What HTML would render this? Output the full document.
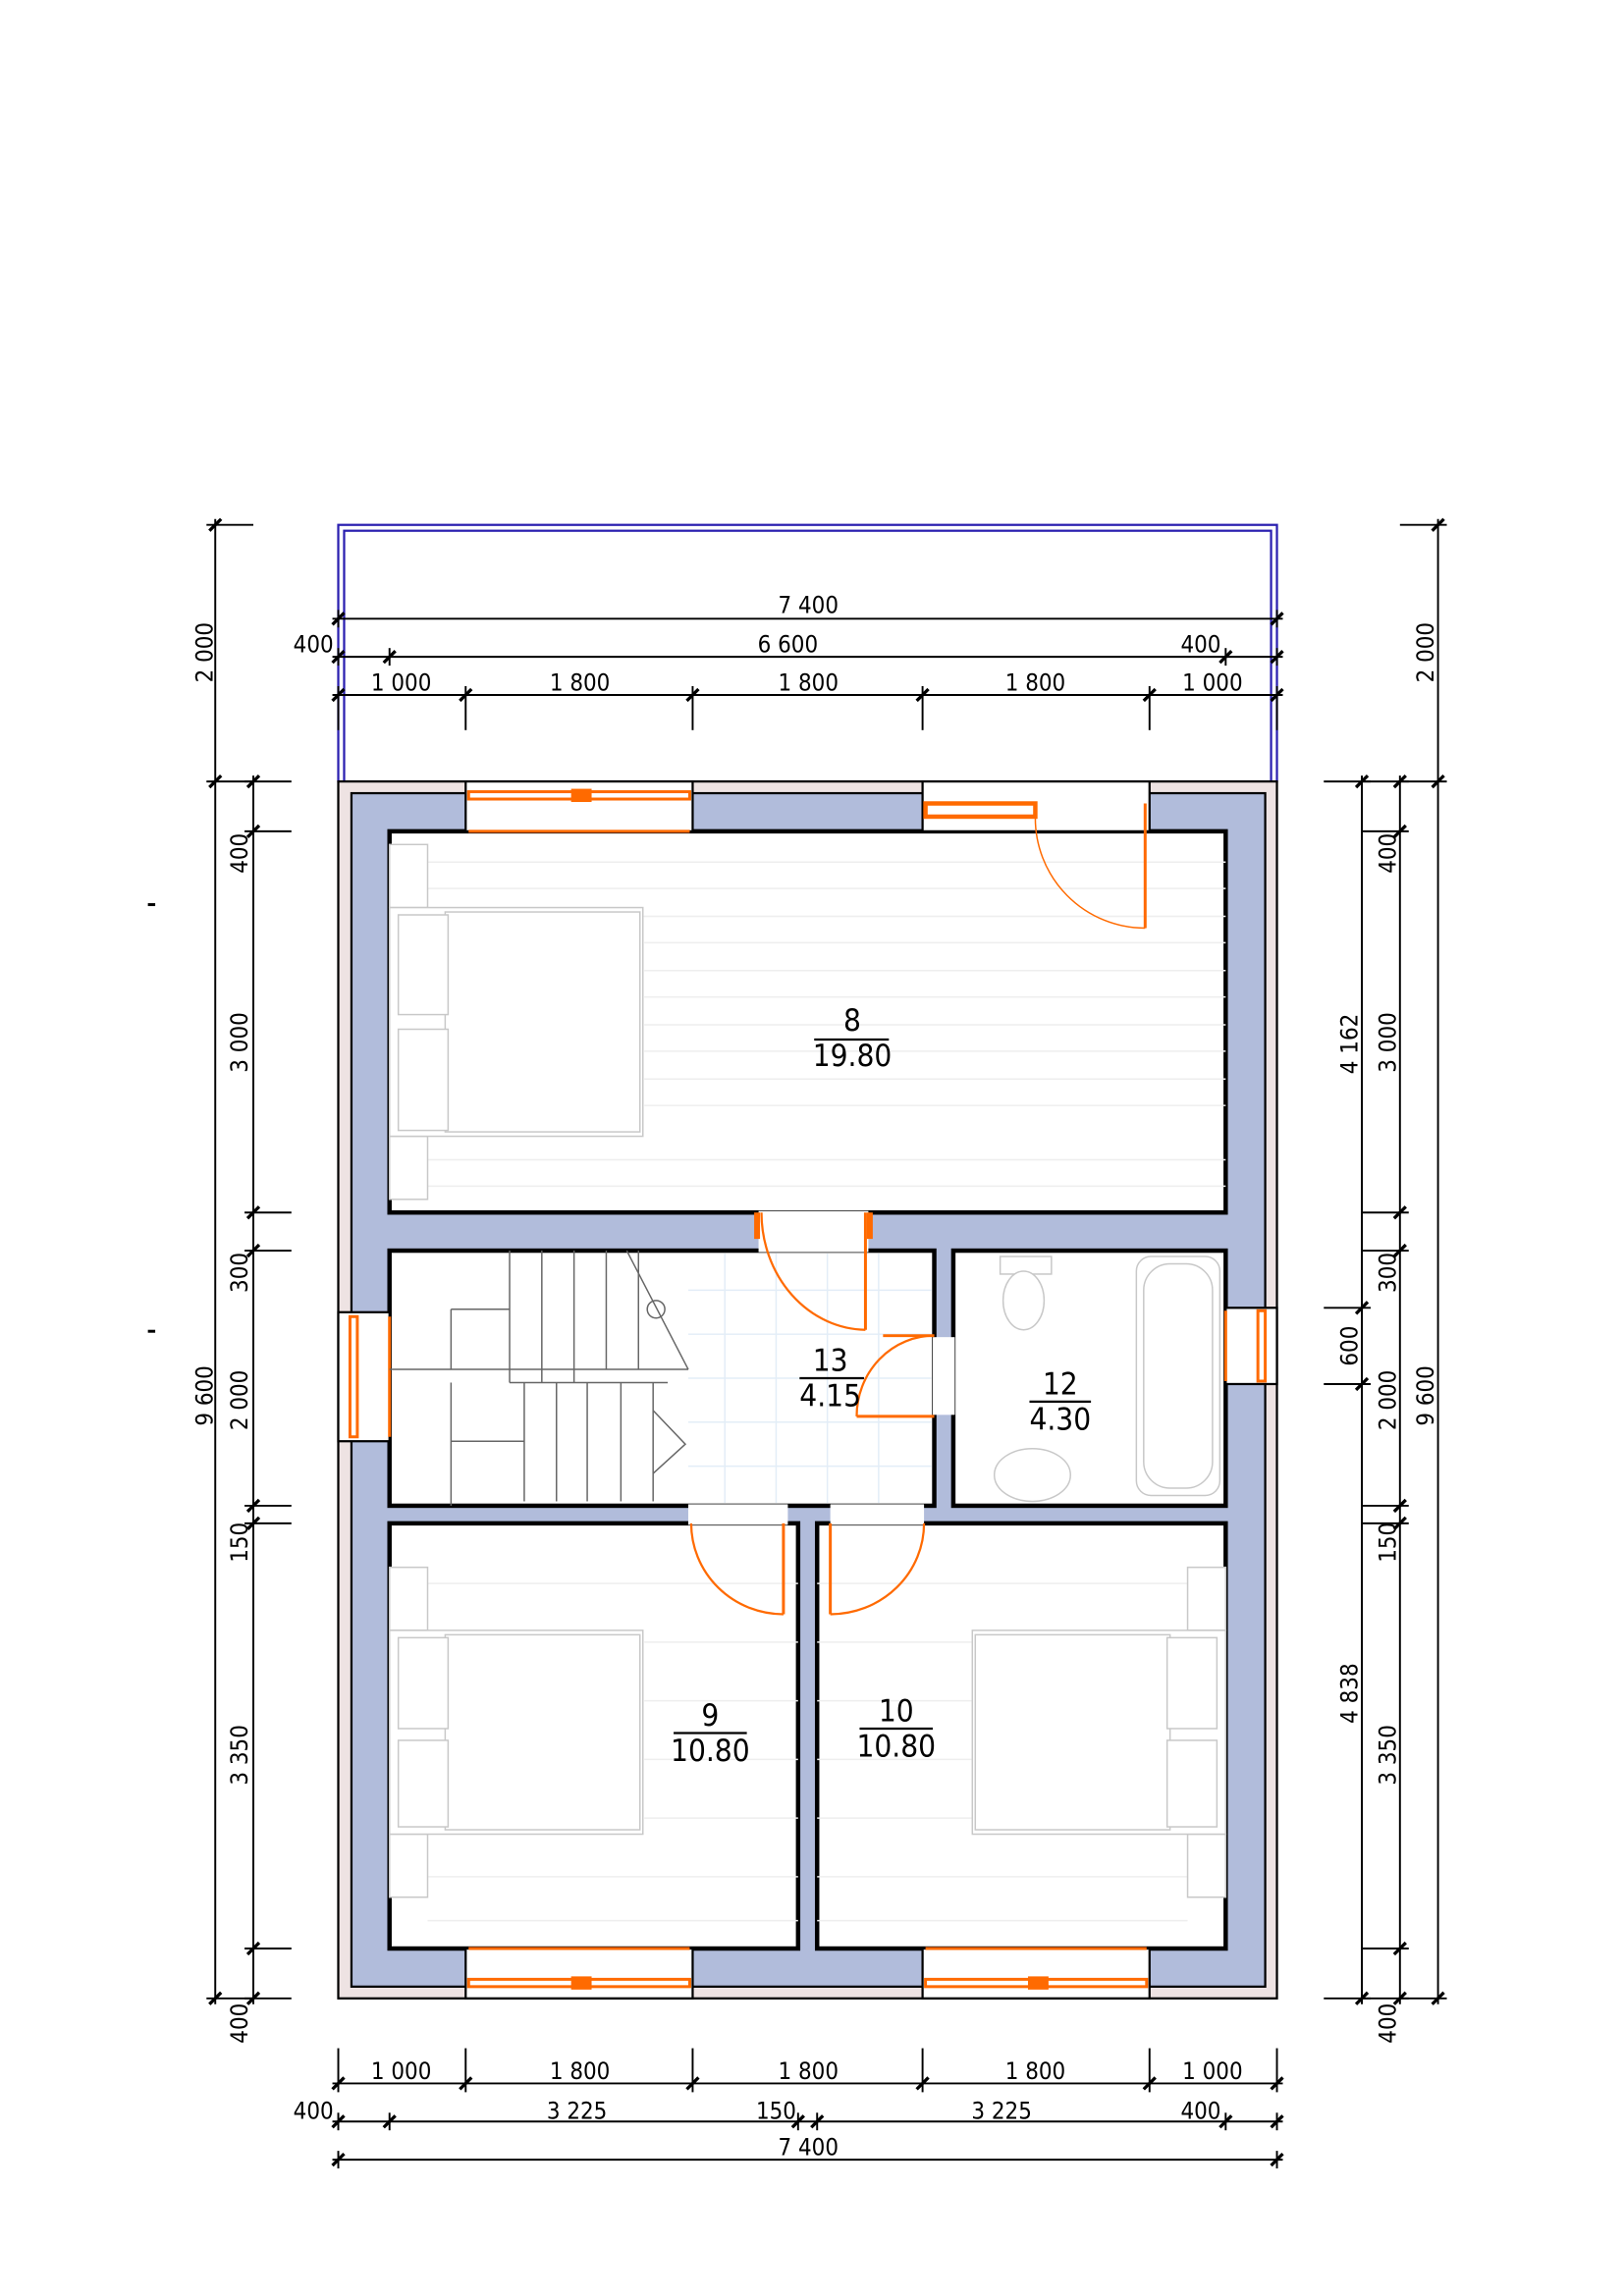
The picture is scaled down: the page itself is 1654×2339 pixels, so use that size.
<!DOCTYPE html>
<html><head><meta charset="utf-8"><style>
html,body{margin:0;padding:0;background:#fff;width:1654px;height:2339px;overflow:hidden}
svg{display:block}
text{font-family:"Liberation Sans Narrow","DejaVu Sans Condensed","Liberation Sans",sans-serif;fill:#000}
.d{font-size:16px;text-anchor:middle}
.r{font-size:21px;text-anchor:middle}
</style></head><body>
<svg id="s" width="1654" height="2339" viewBox="0 0 1109 1566" preserveAspectRatio="none" xmlns="http://www.w3.org/2000/svg">
<rect x="0" y="0" width="1109" height="1566" fill="#fff"/>
<g fill="none" stroke="#2a1fb0" stroke-width="1.5">
<rect x="231" y="358" width="641" height="175"/>
<rect x="235" y="362" width="633" height="171"/>
<line x1="234" y1="533" x2="234" y2="549" stroke-width="3"/>
<line x1="868" y1="533" x2="868" y2="549" stroke-width="3"/>
</g>
<rect x="231" y="533" width="641" height="830" fill="#eee3e3" stroke="#000" stroke-width="1.5"/>
<rect x="240" y="541" width="624" height="814" fill="#b1bcdb" stroke="#000" stroke-width="1.5"/>
<g fill="#fff" stroke="#000" stroke-width="3">
<rect x="266" y="567" width="571" height="260"/>
<rect x="266" y="853" width="372" height="174"/>
<rect x="651" y="853" width="186" height="174"/>
<rect x="266" y="1039" width="279" height="290"/>
<rect x="558" y="1039" width="279" height="290"/>
</g>
<g fill="#fff">
<rect x="470" y="1026" width="68" height="14"/>
<rect x="567" y="1026" width="64" height="14"/>
<rect x="518" y="826" width="75" height="28"/>
<rect x="637" y="912" width="15" height="53"/>
</g>
<g stroke="#eee" stroke-width="1">
<line x1="292" y1="588" x2="837" y2="588"/><line x1="292" y1="606" x2="837" y2="606"/><line x1="292" y1="625" x2="837" y2="625"/><line x1="440" y1="643" x2="837" y2="643"/><line x1="440" y1="662" x2="837" y2="662"/><line x1="440" y1="680" x2="837" y2="680"/><line x1="440" y1="699" x2="837" y2="699"/><line x1="440" y1="717" x2="837" y2="717"/><line x1="440" y1="736" x2="837" y2="736"/><line x1="440" y1="754" x2="837" y2="754"/><line x1="292" y1="791" x2="837" y2="791"/><line x1="292" y1="809" x2="837" y2="809"/>
<line x1="292" y1="1080" x2="545" y2="1080"/><line x1="440" y1="1120" x2="545" y2="1120"/><line x1="440" y1="1160" x2="545" y2="1160"/><line x1="440" y1="1200" x2="545" y2="1200"/><line x1="440" y1="1240" x2="545" y2="1240"/><line x1="292" y1="1280" x2="545" y2="1280"/><line x1="292" y1="1310" x2="545" y2="1310"/>
<line x1="558" y1="1080" x2="811" y2="1080"/><line x1="558" y1="1120" x2="664" y2="1120"/><line x1="558" y1="1160" x2="664" y2="1160"/><line x1="558" y1="1200" x2="664" y2="1200"/><line x1="558" y1="1240" x2="664" y2="1240"/><line x1="558" y1="1280" x2="811" y2="1280"/><line x1="558" y1="1310" x2="811" y2="1310"/>
</g>
<g stroke="#e3edf7" stroke-width="1">
<line x1="470" y1="880" x2="636" y2="880"/><line x1="470" y1="910" x2="636" y2="910"/><line x1="470" y1="940" x2="636" y2="940"/><line x1="470" y1="970" x2="636" y2="970"/><line x1="470" y1="1000" x2="636" y2="1000"/>
<line x1="495" y1="855" x2="495" y2="1025"/><line x1="530" y1="855" x2="530" y2="1025"/><line x1="565" y1="855" x2="565" y2="1025"/><line x1="600" y1="855" x2="600" y2="1025"/>
</g>
<g fill="#fff" stroke="#000" stroke-width="1.5">
<rect x="318" y="533" width="155" height="34"/>
<rect x="630" y="533" width="155" height="34"/>
<rect x="318" y="1329" width="155" height="34"/>
<rect x="630" y="1329" width="155" height="34"/>
<rect x="231" y="895" width="35" height="88"/>
<rect x="837" y="892" width="35" height="52"/>
</g>
<g fill="none" stroke="#ff6a00" stroke-width="2">
<rect x="320" y="540" width="151" height="5"/><rect x="391" y="539" width="12" height="7" fill="#ff6a00"/>
<line x1="320" y1="567" x2="471" y2="567"/>
<rect x="320" y="1350" width="151" height="5"/><rect x="391" y="1349" width="12" height="7" fill="#ff6a00"/>
<line x1="320" y1="1329" x2="471" y2="1329"/>
<rect x="632" y="1350" width="151" height="5"/><rect x="703" y="1349" width="12" height="7" fill="#ff6a00"/>
<line x1="632" y1="1329" x2="783" y2="1329"/>
<rect x="239" y="898" width="5" height="82"/><line x1="266" y1="898" x2="266" y2="980"/>
<rect x="859" y="894" width="5" height="48"/><line x1="837" y1="894" x2="837" y2="942"/>
<rect x="632" y="548" width="75" height="9" stroke-width="3"/>
<line x1="782" y1="548" x2="782" y2="633"/>
<path d="M707 557 A75 75 0 0 0 782 633" stroke-width="1"/>
<line x1="591" y1="827" x2="591" y2="907"/>
<path d="M520 827 A72 80 0 0 0 591 907" stroke-width="1.5"/>
<line x1="517" y1="827" x2="517" y2="845" stroke-width="4"/><line x1="594" y1="827" x2="594" y2="845" stroke-width="4"/>
<line x1="585" y1="966" x2="638" y2="966"/><line x1="603" y1="911" x2="638" y2="911"/>
<path d="M585 966 A53 55 0 0 1 638 911" stroke-width="1.5"/>
<line x1="535" y1="1039" x2="535" y2="1101"/>
<path d="M472 1039 A63 62 0 0 0 535 1101" stroke-width="1.5"/>
<line x1="567" y1="1039" x2="567" y2="1101"/>
<path d="M631 1039 A64 62 0 0 1 567 1101" stroke-width="1.5"/>
</g>
<g fill="#fff" stroke="#c8c8c8" stroke-width="1">
<rect x="266" y="576" width="26" height="43"/><rect x="266" y="775" width="26" height="43"/>
<rect x="266" y="619" width="173" height="156"/><rect x="304" y="622" width="133" height="150"/>
<rect x="272" y="624" width="34" height="68"/><rect x="272" y="702" width="34" height="69"/>
<rect x="266" y="1069" width="26" height="43"/><rect x="266" y="1251" width="26" height="43"/>
<rect x="266" y="1112" width="173" height="139"/><rect x="304" y="1115" width="133" height="133"/>
<rect x="272" y="1117" width="34" height="62"/><rect x="272" y="1187" width="34" height="59"/>
<rect x="811" y="1069" width="26" height="43"/><rect x="811" y="1251" width="26" height="43"/>
<rect x="664" y="1112" width="173" height="139"/><rect x="666" y="1115" width="133" height="133"/>
<rect x="797" y="1117" width="34" height="62"/><rect x="797" y="1187" width="34" height="59"/>
<rect x="776" y="857" width="57" height="163" rx="10"/><rect x="781" y="862" width="47" height="153" rx="18"/>
<rect x="683" y="857" width="35" height="12"/><ellipse cx="699" cy="887" rx="14" ry="20"/>
<ellipse cx="705" cy="1006" rx="26" ry="18"/>
</g>
<g stroke="#666" stroke-width="1" fill="none">
<line x1="348" y1="853" x2="348" y2="943"/><line x1="370" y1="853" x2="370" y2="943"/><line x1="392" y1="853" x2="392" y2="943"/><line x1="414" y1="853" x2="414" y2="934"/><line x1="436" y1="853" x2="436" y2="934"/>
<line x1="266" y1="934" x2="470" y2="934"/><line x1="348" y1="943" x2="456" y2="943"/>
<line x1="308" y1="893" x2="348" y2="893"/><line x1="308" y1="893" x2="308" y2="934"/>
<line x1="308" y1="983" x2="358" y2="983"/><line x1="308" y1="943" x2="308" y2="1027"/>
<line x1="358" y1="943" x2="358" y2="1024"/><line x1="380" y1="943" x2="380" y2="1024"/><line x1="401" y1="943" x2="401" y2="1024"/><line x1="424" y1="943" x2="424" y2="1024"/><line x1="446" y1="943" x2="446" y2="1024"/>
<path d="M428 853 L470 934"/><path d="M446 962 L468 985 L446 1005"/>
<circle cx="448" cy="893" r="6"/>
</g>
<g id="dims" stroke="#000" stroke-width="1.3" fill="none"></g>
<g>
<text x="552" y="418" class="d">7 400</text>
<text x="538" y="445" class="d">6 600</text>
<text x="214" y="445" class="d">400</text><text x="820" y="445" class="d">400</text>
<text x="274" y="471" class="d">1 000</text><text x="396" y="471" class="d">1 800</text><text x="552" y="471" class="d">1 800</text><text x="707" y="471" class="d">1 800</text><text x="828" y="471" class="d">1 000</text>
<text x="274" y="1418" class="d">1 000</text><text x="396" y="1418" class="d">1 800</text><text x="552" y="1418" class="d">1 800</text><text x="707" y="1418" class="d">1 800</text><text x="828" y="1418" class="d">1 000</text>
<text x="214" y="1445" class="d">400</text><text x="394" y="1445" class="d">3 225</text><text x="530" y="1445" class="d">150</text><text x="684" y="1445" class="d">3 225</text><text x="820" y="1445" class="d">400</text>
<text x="552" y="1470" class="d">7 400</text>
</g>
<g>
<text class="d" transform="translate(145,445) rotate(-90)">2 000</text>
<text class="d" transform="translate(145,952) rotate(-90)">9 600</text>
<text class="d" transform="translate(169,582) rotate(-90)">400</text>
<text class="d" transform="translate(169,711) rotate(-90)">3 000</text>
<text class="d" transform="translate(169,868) rotate(-90)">300</text>
<text class="d" transform="translate(169,955) rotate(-90)">2 000</text>
<text class="d" transform="translate(169,1052) rotate(-90)">150</text>
<text class="d" transform="translate(169,1197) rotate(-90)">3 350</text>
<text class="d" transform="translate(169,1380) rotate(-90)">400</text>
<text class="d" transform="translate(979,445) rotate(-90)">2 000</text>
<text class="d" transform="translate(979,952) rotate(-90)">9 600</text>
<text class="d" transform="translate(953,582) rotate(-90)">400</text>
<text class="d" transform="translate(953,711) rotate(-90)">3 000</text>
<text class="d" transform="translate(953,868) rotate(-90)">300</text>
<text class="d" transform="translate(953,955) rotate(-90)">2 000</text>
<text class="d" transform="translate(953,1052) rotate(-90)">150</text>
<text class="d" transform="translate(953,1197) rotate(-90)">3 350</text>
<text class="d" transform="translate(953,1380) rotate(-90)">400</text>
<text class="d" transform="translate(927,712) rotate(-90)">4 162</text>
<text class="d" transform="translate(927,918) rotate(-90)">600</text>
<text class="d" transform="translate(927,1155) rotate(-90)">4 838</text>
</g>
<line x1="101" y1="617" x2="106" y2="617" stroke="#000" stroke-width="2"/>
<line x1="101" y1="908" x2="106" y2="908" stroke="#000" stroke-width="2"/>
<g stroke="#000" stroke-width="1.5">
<text class="r" x="582" y="703" stroke="none">8</text><line x1="556" y1="709" x2="607" y2="709"/><text class="r" x="582" y="727" stroke="none">19.80</text>
<text class="r" x="567" y="935" stroke="none">13</text><line x1="546" y1="940" x2="590" y2="940"/><text class="r" x="567" y="959" stroke="none">4.15</text>
<text class="r" x="724" y="951" stroke="none">12</text><line x1="703" y1="956" x2="745" y2="956"/><text class="r" x="724" y="975" stroke="none">4.30</text>
<text class="r" x="485" y="1177" stroke="none">9</text><line x1="460" y1="1182" x2="510" y2="1182"/><text class="r" x="485" y="1201" stroke="none">10.80</text>
<text class="r" x="612" y="1174" stroke="none">10</text><line x1="587" y1="1179" x2="637" y2="1179"/><text class="r" x="612" y="1198" stroke="none">10.80</text>
</g>
</svg>
<script>
var g=document.getElementById('dims'),NS="http://www.w3.org/2000/svg";
function L(a,b,c,d,w){var l=document.createElementNS(NS,'line');l.setAttribute('x1',a);l.setAttribute('y1',b);l.setAttribute('x2',c);l.setAttribute('y2',d);if(w)l.setAttribute('stroke-width',w);g.appendChild(l);}
function H(y,xs,up,dn){L(xs[0]-4,y,xs[xs.length-1]+4,y);xs.forEach(function(x){L(x,y-up,x,y+dn);L(x-4,y+4,x+4,y-4,2.2);});}
function V(x,ys,lf,rt){L(x,ys[0]-4,x,ys[ys.length-1]+4);ys.forEach(function(y){L(x-lf,y,x+rt,y);L(x-4,y+4,x+4,y-4,2.2);});}
H(422,[231,872],6,6);
H(448,[231,266,837,872],6,6);
H(474,[231,318,473,630,785,872],6,24);
H(1421,[231,318,473,630,785,872],24,6);
H(1447,[231,266,545,558,837,872],6,6);
H(1473,[231,872],6,6);
V(147,[358,533,1363],6,26);
V(173,[533,567,827,853,1027,1039,1329,1363],6,26);
V(982,[358,533,1363],26,6);
V(956,[533,567,827,853,1027,1039,1329,1363],26,6);
V(930,[533,892,944,1363],26,6);
</script>
</body></html>
